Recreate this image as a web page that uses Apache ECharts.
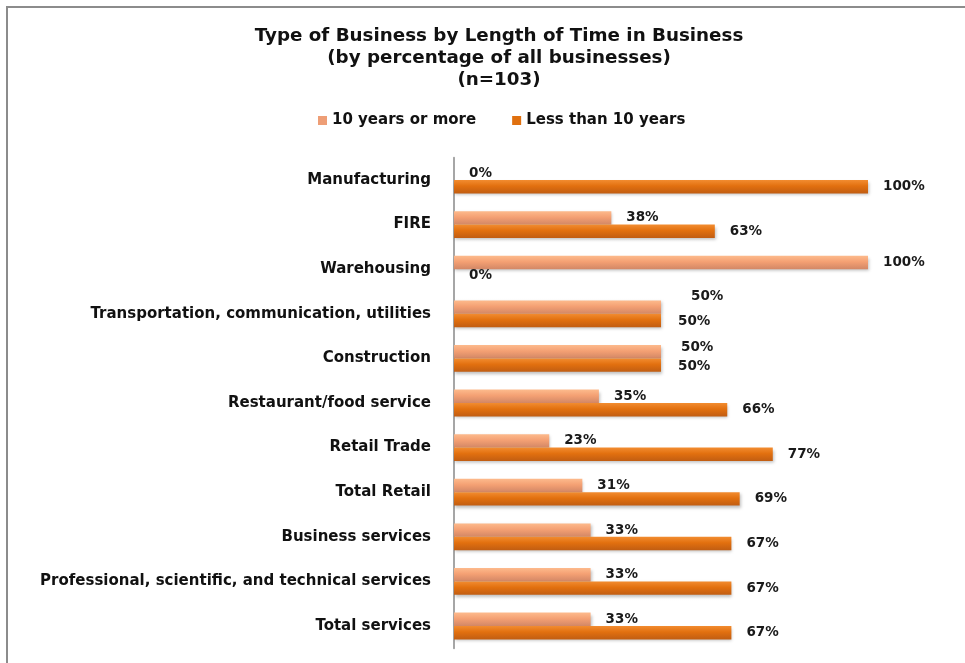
<!DOCTYPE html>
<html>
<head>
<meta charset="utf-8">
<title>Type of Business by Length of Time in Business</title>
<script src="https://cdn.jsdelivr.net/npm/echarts@6/dist/echarts.min.js"></script>
<style>
  html, body { margin: 0; padding: 0; background: #ffffff; }
  #chart { width: 965px; height: 663px; }
</style>
</head>
<body>
<div id="chart"></div>
<script>
// Business categories, listed top to bottom
const categories = [
  'Manufacturing',
  'FIRE',
  'Warehousing',
  'Transportation, communication, utilities',
  'Construction',
  'Restaurant/food service',
  'Retail Trade',
  'Total Retail',
  'Business services',
  'Professional, scientific, and technical services',
  'Total services'
];

// Share of businesses (%) in each category
const tenYearsOrMore = [0, 38, 100, 50, 50, 35, 23, 31, 33, 33, 33];
const lessThanTenYears = [100, 63, 0, 50, 50, 66, 77, 69, 67, 67, 67];

const seriesNames = ['10 years or more', 'Less than 10 years'];

// Label nudges for crowded rows: [dx, dy] per series, keyed by category
const labelNudge = {
  'Transportation, communication, utilities': [[15, -11], [2, 1]],
  'Construction': [[5, -4], [2, 1]]
};

function grad(top, mid, bottom) {
  return new echarts.graphic.LinearGradient(0, 0, 0, 1, [
    { offset: 0, color: top },
    { offset: 0.45, color: mid },
    { offset: 1, color: bottom }
  ]);
}

const lightFill = grad('#FDBA8C', '#F4A073', '#D28766');
const darkFill = grad('#F28C30', '#E2700F', '#C15D12');

function buildData(values, seriesIdx) {
  return values.map((v, i) => {
    const item = { value: v };
    const nudge = labelNudge[categories[i]];
    if (nudge) {
      item.label = { offset: nudge[seriesIdx] };
    }
    return item;
  });
}

const labelStyle = {
  show: true,
  position: 'right',
  distance: 15,
  formatter: '{c}%',
  fontFamily: 'DejaVu Sans',
  fontWeight: 'bold',
  fontSize: 13.5,
  color: '#1a1a1a'
};

const chart = echarts.init(document.getElementById('chart'), null, { renderer: 'canvas' });

chart.setOption({
  backgroundColor: '#ffffff',
  animation: false,
  title: {
    text: 'Type of Business by Length of Time in Business\n(by percentage of all businesses)\n(n=103)',
    left: 494,
    textAlign: 'center',
    top: 20,
    textStyle: {
      fontFamily: 'DejaVu Sans',
      fontWeight: 'bold',
      fontSize: 18.3,
      lineHeight: 22,
      color: '#111111'
    }
  },
  legend: {
    top: 113,
    left: 318,
    padding: 0,
    itemWidth: 9,
    itemHeight: 9,
    itemGap: 36,
    icon: 'rect',
    textStyle: {
      fontFamily: 'DejaVu Sans',
      fontWeight: 'bold',
      fontSize: 15,
      color: '#111111'
    },
    data: [
      { name: seriesNames[0], itemStyle: { color: '#EE9E76' } },
      { name: seriesNames[1], itemStyle: { color: '#E0700F' } }
    ]
  },
  grid: {
    left: 454,
    right: 97,
    top: 157.7,
    bottom: 14.7,
    containLabel: false
  },
  xAxis: {
    type: 'value',
    min: 0,
    max: 100,
    show: false
  },
  yAxis: {
    type: 'category',
    inverse: true,
    data: categories,
    axisLine: { show: true, lineStyle: { color: '#A6A6A6', width: 2 } },
    axisTick: { show: false },
    axisLabel: {
      margin: 23,
      fontFamily: 'DejaVu Sans',
      fontWeight: 'bold',
      fontSize: 15,
      color: '#111111'
    }
  },
  series: [
    {
      name: seriesNames[0],
      type: 'bar',
      z: 2,
      barGap: '0%',
      barCategoryGap: '40%',
      data: buildData(tenYearsOrMore, 0),
      itemStyle: {
        color: lightFill,
        shadowColor: 'rgba(0,0,0,0.25)',
        shadowBlur: 3,
        shadowOffsetX: 1,
        shadowOffsetY: 2
      },
      label: labelStyle
    },
    {
      name: seriesNames[1],
      type: 'bar',
      z: 3,
      barGap: '0%',
      barCategoryGap: '40%',
      data: buildData(lessThanTenYears, 1),
      itemStyle: {
        color: darkFill,
        shadowColor: 'rgba(0,0,0,0.25)',
        shadowBlur: 3,
        shadowOffsetX: 1,
        shadowOffsetY: 2
      },
      label: labelStyle
    }
  ],
  graphic: [
    // chart frame (left and top edges)
    {
      type: 'polyline',
      shape: { points: [[7, 663], [7, 7], [965, 7]] },
      style: { stroke: '#8C8C8C', lineWidth: 2, fill: null },
      silent: true
    }
  ]
});
</script>
</body>
</html>
